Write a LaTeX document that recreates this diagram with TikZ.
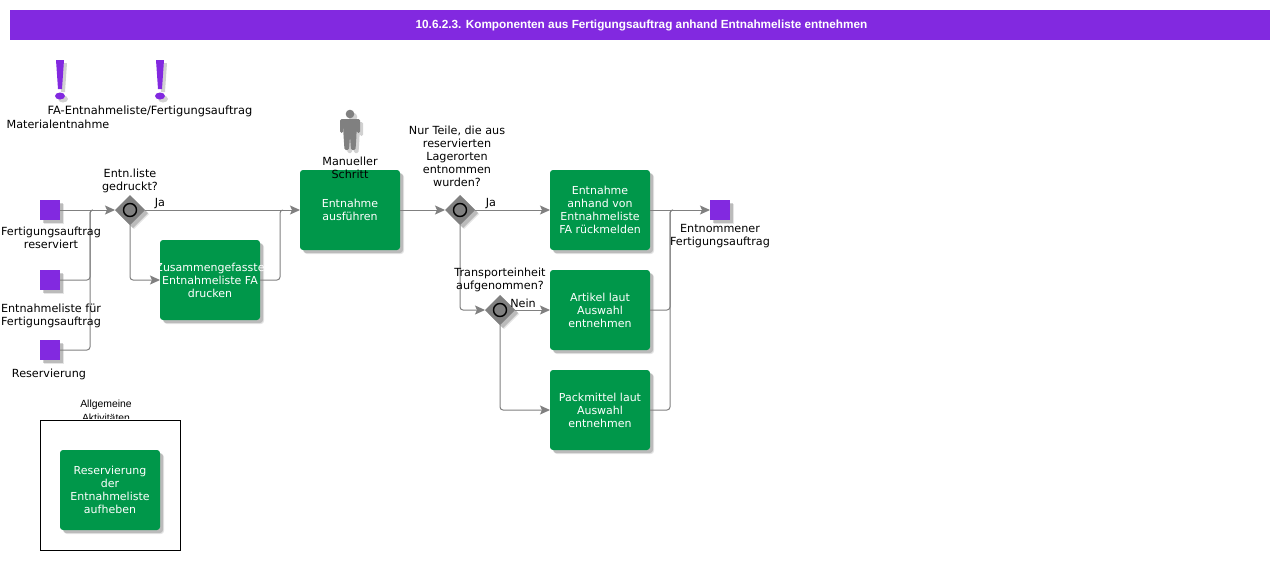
\documentclass[tikz,border=0pt]{standalone}
\usepackage{fontspec}
\setmainfont{DejaVu Sans}
\newfontfamily\arialf{Liberation Sans}
\usetikzlibrary{arrows.meta,shapes.geometric,shadows,calc}
\definecolor{pviolet}{HTML}{8229E0}
\definecolor{pgreen}{HTML}{00974A}
\definecolor{pgray}{HTML}{808080}
\tikzset{
  softshadow/.style={general shadow={shadow xshift=4pt,shadow yshift=-4pt,fill=black,opacity=.1},
                     general shadow={shadow xshift=3pt,shadow yshift=-3pt,fill=black,opacity=.18}},
  taskbox/.style={rectangle,rounded corners=3pt,fill=pgreen,text=white,minimum width=100pt,minimum height=80pt,inner sep=0pt,outer sep=0pt,align=center,softshadow,font=\fontsize{11}{13}\selectfont},
  statebox/.style={rectangle,fill=pviolet,minimum size=20pt,inner sep=0pt,outer sep=0pt,softshadow},
  gatebox/.style={diamond,fill=pgray,minimum width=30pt,minimum height=30pt,inner sep=0pt,outer sep=0pt,softshadow},
  gatering/.style={circle,draw=black,line width=1.4pt,fill=pgray,minimum size=13pt,inner sep=0pt},
  lbl/.style={inner sep=0pt,outer sep=0pt,align=center,text=black,font=\fontsize{11.2}{13}\selectfont},
  flowline/.style={draw=pgray,line width=1pt,rounded corners=3pt},
  flowarrow/.style={flowline,-{Stealth[length=10pt,width=9pt,inset=2pt,fill=pgray]}},
}
\begin{document}
\begin{tikzpicture}[x=1pt,y=-1pt]
\useasboundingbox (0,0) rectangle (1280,560);
\fill[white] (0,0) rectangle (1280,560);
% title
\node[fill=pviolet,minimum width=1260pt,minimum height=30pt,inner sep=0pt,outer sep=0pt,text=white,font=\arialf\bfseries\fontsize{11.77}{14}\selectfont,text height=9pt,text depth=3pt] (title) at (640,25) {\hspace*{3pt}10.6.2.3. Komponenten aus Fertigungsauftrag anhand Entnahmeliste entnehmen};
% exclamation marks
\foreach \cx in {60,160}{
  \fill[black,opacity=.18] (\cx-1,63) -- (\cx+7,63) -- (\cx+5,92) -- (\cx+1,92) -- cycle;
  \fill[black,opacity=.18] (\cx+3,99) ellipse (5pt and 3.5pt);
  \fill[pviolet] (\cx-4,60) -- (\cx+4,60) -- (\cx+2,89) -- (\cx-2,89) -- cycle;
  \fill[pviolet] (\cx,96) ellipse (5pt and 3.5pt);
}
% person
\foreach \sh/\col/\op in {3/black/.18,0/pgray/1}{
  \begin{scope}[shift={(\sh,\sh)}]
  \fill[\col,opacity=\op] (350,114) circle (4.3pt);
  \fill[\col,opacity=\op,rounded corners=1.5pt] (340,119) -- (360,119) -- (360,133) -- (357,133) -- (356.5,124) -- (356.5,135) -- (355.5,150) -- (351,150) -- (350,136) -- (349,150) -- (344.5,150) -- (343.5,135) -- (343.5,124) -- (343,133) -- (340,133) -- cycle;
  \end{scope}
}
% activities frame
\node[draw=black,line width=1pt,minimum width=140pt,minimum height=130pt,inner sep=0pt,outer sep=0pt] (frame) at (110.5,485.5) {};
% states
\node[statebox] (s1) at (50,210) {};
\node[statebox] (s2) at (50,280) {};
\node[statebox] (s3) at (50,350) {};
\node[statebox] (s4) at (720,210) {};
% gateways
\node[gatebox] (g1) at (130,210) {};
\node[gatebox] (g2) at (460,210) {};
\node[gatebox] (g3) at (500,310) {};
% tasks
\node[taskbox] (tprint) at (210,280) {\makebox[100pt][c]{Zusammengefasste}\\\makebox[100pt][c]{Entnahmeliste FA}\\drucken};
\node[taskbox] (tdo) at (350,210) {Entnahme\\ausführen};
\node[taskbox] (tback) at (600,210) {Entnahme\\anhand von\\Entnahmeliste\\FA rückmelden};
\node[taskbox] (tart) at (600,310) {Artikel laut\\Auswahl\\entnehmen};
\node[taskbox] (tpack) at (600,410) {Packmittel laut\\Auswahl\\entnehmen};
\node[taskbox] (tres) at (110,490) {Reservierung\\der\\Entnahmeliste\\aufheben};
% junctions
\coordinate (j1) at (90,210);
\coordinate (j2) at (280,210);
\coordinate (j3) at (670,210);
% connectors
\begin{scope}[shift={(0.5,0.5)}]
\draw[flowarrow] (s1.east) -- (g1.west);
\draw[flowline] (s2.east) -| (j1) -- ++(3,0);
\draw[flowline] (s3.east) -| (j1) -- ++(3,0);
\draw[flowarrow] (g1.east) -- (tdo.west);
\draw[flowarrow] (g1.south) |- (tprint.west);
\draw[flowline] (tprint.east) -| (j2) -- ++(3,0);
\draw[flowarrow] (tdo.east) -- (g2.west);
\draw[flowarrow] (g2.east) -- (tback.west);
\draw[flowarrow] (g2.south) |- (g3.west);
\draw[flowarrow] (g3.east) -- (tart.west);
\draw[flowarrow] (g3.south) |- (tpack.west);
\draw[flowarrow] (tback.east) -- (s4.west);
\draw[flowline] (tart.east) -| (j3) -- ++(3,0);
\draw[flowline] (tpack.east) -| (j3) -- ++(3,0);
\end{scope}
\node[gatering] (r1) at (130,210) {};
\node[gatering] (r2) at (460,210) {};
\node[gatering] (r3) at (500,310) {};
% labels
\node[lbl,font=\fontsize{11.4}{13}\selectfont] (l1) at (150,111) {FA-Entnahmeliste/Fertigungsauftrag};
\node[lbl] (l2) at (58,124.5) {Materialentnahme};
\node[lbl] (l3) at (130,180.5) {Entn.liste\\gedruckt?};
\node[lbl] (l4) at (51,237.5) {Fertigungsauftrag\\reserviert};
\node[lbl] (l5) at (51,315.5) {Entnahmeliste für\\Fertigungsauftrag};
\node[lbl] (l6) at (49,374) {Reservierung};
\node[lbl] (l7) at (350,168) {Manueller\\Schritt};
\node[lbl] (l8) at (457,156.2) {Nur Teile, die aus\\reservierten\\Lagerorten\\entnommen\\wurden?};
\node[lbl] (l9) at (500,280) {Transporteinheit\\aufgenommen?};
\node[lbl] (l10) at (720,236) {Entnommener\\Fertigungsauftrag};
\node[lbl] (l11) at (160,203.5) {Ja};
\node[lbl] (l12) at (491,203.5) {Ja};
\node[lbl] (l13) at (523,303) {Nein};
\begin{scope}
\clip (60,395) rectangle (160,418);
\node[inner sep=0pt,align=center,font=\arialf\fontsize{10.4}{14}\selectfont] (l14) at (106,411) {Allgemeine\\Aktivitäten};
\end{scope}
\end{tikzpicture}
\end{document}
